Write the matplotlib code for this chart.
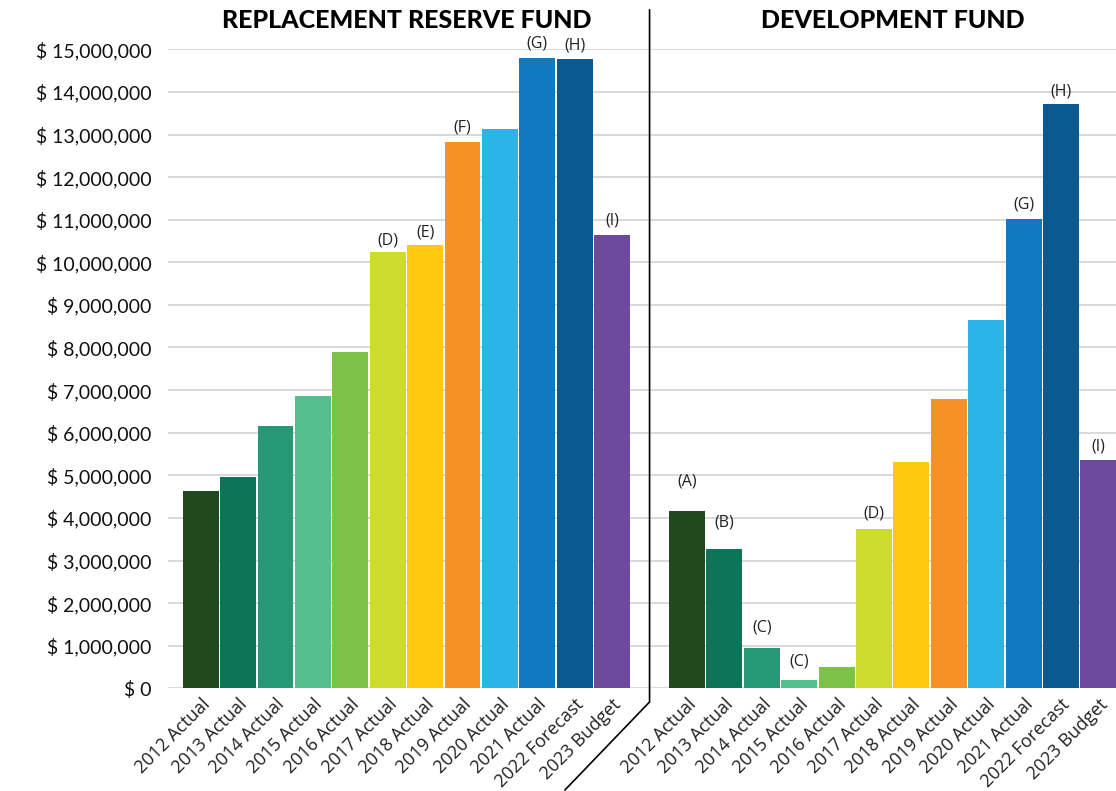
import matplotlib
matplotlib.use("Agg")
import matplotlib.pyplot as plt
from matplotlib.lines import Line2D
import matplotlib.transforms as mtransforms
from matplotlib.ticker import FuncFormatter

plt.rcParams['font.family'] = ['Lato', 'DejaVu Sans']

# ---- data ----
categories = ["2012 Actual", "2013 Actual", "2014 Actual", "2015 Actual", "2016 Actual",
              "2017 Actual", "2018 Actual", "2019 Actual", "2020 Actual", "2021 Actual",
              "2022 Forecast", "2023 Budget"]
replacement_reserve = [4.63e6, 4.96e6, 6.16e6, 6.86e6, 7.89e6, 10.24e6, 10.41e6,
                       12.82e6, 13.13e6, 14.80e6, 14.77e6, 10.64e6]
development_fund = [4.16e6, 3.27e6, 0.95e6, 0.195e6, 0.50e6, 3.74e6, 5.31e6,
                    6.79e6, 8.65e6, 11.02e6, 13.71e6, 5.36e6]
replacement_notes = ["", "", "", "", "", "(D)", "(E)", "(F)", "", "(G)", "(H)", "(I)"]
development_notes = ["(A)", "(B)", "(C)", "(C)", "", "(D)", "", "", "", "(G)", "(H)", "(I)"]
panel_titles = ["REPLACEMENT RESERVE FUND", "DEVELOPMENT FUND"]
yticks = [i * 1_000_000 for i in range(16)]

# ---- style ----
colors = ["#20491F", "#0F7357", "#239A75", "#57BE8E", "#7DC246", "#CBDC2C",
          "#FEC90D", "#F59223", "#2AB4E8", "#1179C0", "#0A5A91", "#6E4A9E"]
# label-centre offsets above bar tops, in pixels
rep_note_px = [0, 0, 0, 0, 0, 12, 12, 15, 0, 14, 14, 15]
dev_note_px = [30, 26, 20, 18, 0, 15, 0, 0, 0, 14, 13, 13]
label_font = ['Open Sans', 'DejaVu Sans']

W, H = 1116, 791
fig = plt.figure(figsize=(W / 100, H / 100), dpi=100)
ax_left, ax_right = 168, 1116
ax_top, ax_bottom = 49.3, 688.3
ax = fig.add_axes([ax_left / W, 1 - ax_bottom / H, (ax_right - ax_left) / W, (ax_bottom - ax_top) / H])

n = len(categories)
left_x = list(range(n))
right_x = [n + 1 + i for i in range(n)]

ax.bar(left_x, replacement_reserve, width=0.96, color=colors, zorder=3)
ax.bar(right_x, development_fund, width=0.96, color=colors, zorder=3)

for xs, vals, notes, offs in [(left_x, replacement_reserve, replacement_notes, rep_note_px),
                              (right_x, development_fund, development_notes, dev_note_px)]:
    for x, v, t, o in zip(xs, vals, notes, offs):
        if t:
            ax.annotate(t, (x, v), xytext=(0, o * 0.72), textcoords="offset points",
                        ha="center", va="center", fontsize=11.5, color="#222222",
                        family=label_font)

ax.set_ylim(0, 15_000_000)
ax.set_xlim(-0.874, 24.47)
ax.set_yticks(yticks)
ax.yaxis.set_major_formatter(FuncFormatter(lambda v, p: "$ 0" if v == 0 else f"$ {v:,.0f}"))
ax.tick_params(axis="y", length=0, pad=12, labelsize=14, labelcolor="#111111")
ax.set_xticks(left_x + right_x)
ax.set_xticklabels(categories + categories, rotation=45, ha="right",
                   rotation_mode="anchor", fontsize=13, color="#222222",
                   family=label_font)
ax.tick_params(axis="x", length=0, pad=5)
ax.grid(axis="y", color="#d9d9d9", linewidth=1.4, zorder=0)
for s in ax.spines.values():
    s.set_visible(False)

# panel titles
ttrans = mtransforms.blended_transform_factory(ax.transData, ax.transAxes)
for xs, title in zip([left_x, right_x], panel_titles):
    cx = (xs[0] + xs[-1]) / 2
    ax.text(cx, 1.045, title, transform=ttrans,
            ha="center", va="center", fontsize=18, fontweight="black", color="#000000")

# divider line
ax.add_line(Line2D([n, n, n - 2.26], [1.0615, -0.0214, -0.159], transform=ttrans,
                   color="black", linewidth=1.2, clip_on=False))

fig.savefig("out.png", dpi=100)
